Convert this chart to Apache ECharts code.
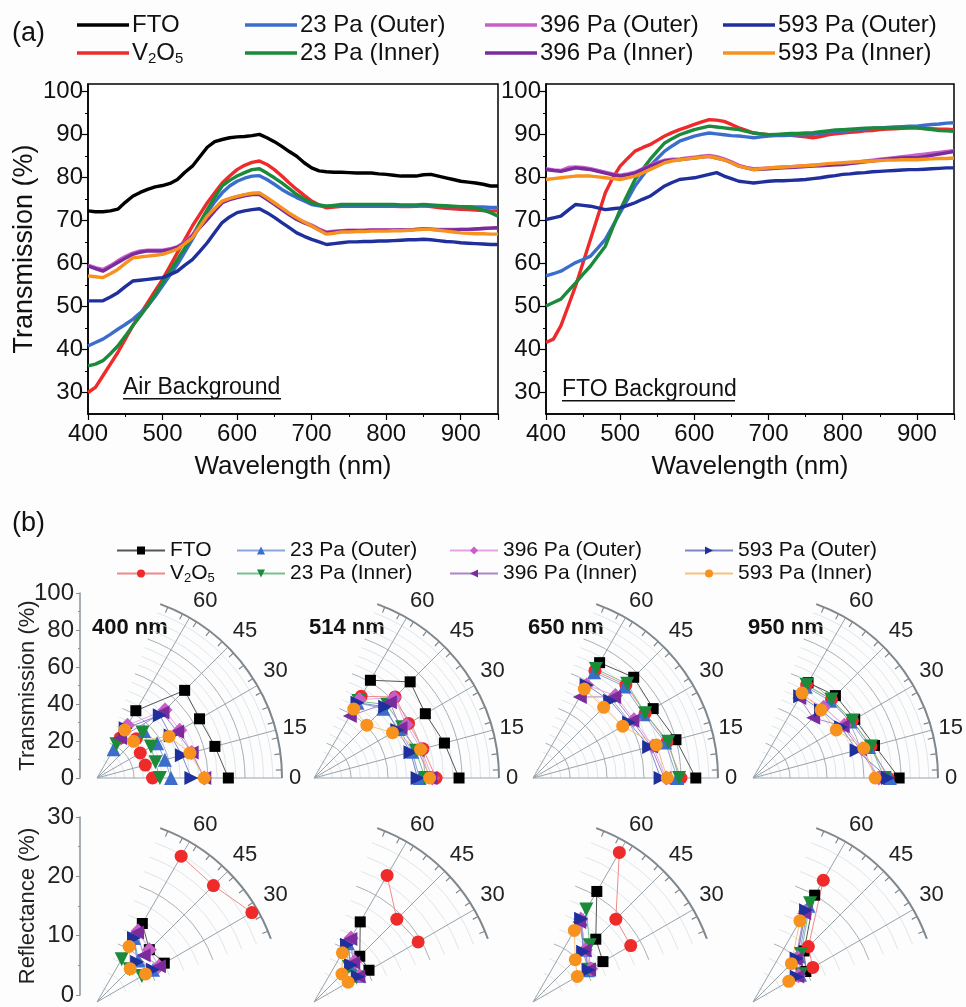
<!DOCTYPE html>
<html>
<head>
<meta charset="utf-8">
<script src="https://cdn.jsdelivr.net/npm/echarts@6/dist/echarts.min.js"></script>
<style>
html,body{margin:0;padding:0;background:#fdfdfe;}
#main{width:966px;height:1007px;}
</style>
</head>
<body>
<div id="main"></div>
<script>
// (a) spectra, 10 nm steps
var wavelength = [400,410,420,430,440,450,460,470,480,490,
  500,510,520,530,540,550,560,570,580,590,
  600,610,620,630,640,650,660,670,680,690,
  700,710,720,730,740,750,760,770,780,790,
  800,810,820,830,840,850,860,870,880,890,
  900,910,920,930,940,950];

// air background
var airFTO = [72.2,72.0,72.0,72.2,72.6,74.2,75.6,76.5,77.2,77.8,
  78.1,78.6,79.5,81.2,82.6,84.8,87.0,88.3,88.8,89.2,
  89.4,89.5,89.7,90.0,89.2,88.3,87.2,86.0,84.9,83.4,
  82.2,81.5,81.3,81.2,81.2,81.1,81.0,81.0,81.0,80.8,
  80.7,80.5,80.3,80.3,80.3,80.6,80.7,80.3,79.9,79.5,
  79.1,78.9,78.7,78.4,78.0,78.0];
var airV2O5 = [30.0,31.2,33.9,36.6,39.3,42.4,45.5,48.2,50.9,53.6,
  56.3,59.4,62.5,65.6,68.7,71.4,74.1,76.4,78.7,80.3,
  81.8,82.8,83.5,83.8,83.0,81.8,80.3,78.7,77.2,75.8,
  74.5,73.6,72.9,73.1,73.3,73.4,73.5,73.5,73.4,73.4,
  73.3,73.3,73.2,73.2,73.3,73.4,73.2,73.0,72.8,72.7,
  72.6,72.5,72.4,72.3,72.2,72.2];
var air23Out = [40.8,41.6,42.4,43.5,44.7,45.8,47.0,48.5,50.1,52.3,
  54.8,57.3,59.8,62.7,65.6,68.7,71.8,74.3,76.4,78.0,
  79.1,79.8,80.3,80.4,79.5,78.4,77.2,76.2,75.3,74.5,
  73.7,73.4,73.3,73.3,73.3,73.3,73.3,73.3,73.3,73.3,
  73.3,73.3,73.3,73.3,73.4,73.5,73.4,73.3,73.2,73.2,
  73.2,73.2,73.1,73.1,73.0,73.0];
var air23In = [36.2,36.6,37.4,39.0,40.8,43.1,45.5,47.8,50.1,52.8,
  55.5,58.2,60.9,63.6,66.4,69.5,72.5,75.4,78.0,79.3,
  80.3,81.1,81.8,82.0,81.0,79.9,78.7,77.4,76.0,75.0,
  74.1,73.6,73.3,73.5,73.7,73.7,73.7,73.7,73.7,73.7,
  73.7,73.7,73.6,73.6,73.6,73.7,73.6,73.5,73.4,73.3,
  73.2,73.1,72.9,72.4,71.8,71.0];
var air396Out = [59.6,59.0,58.6,59.5,60.6,61.6,62.4,62.9,63.1,63.1,
  63.1,63.4,63.9,65.0,66.6,68.5,70.4,72.4,74.3,75.0,
  75.5,75.9,76.2,76.3,75.2,74.0,72.7,71.5,70.4,69.6,
  68.9,68.0,67.3,67.5,67.6,67.7,67.7,67.7,67.8,67.8,
  67.8,67.8,67.8,67.8,67.9,68.0,68.0,67.9,67.9,67.9,
  67.9,67.9,68.0,68.1,68.2,68.3];
var air396In = [59.4,58.8,58.2,59.2,60.2,61.2,62.1,62.6,62.9,62.9,
  62.9,63.2,63.7,64.8,66.4,68.3,70.2,72.2,74.1,74.8,
  75.3,75.7,76.0,76.0,74.9,73.7,72.5,71.3,70.2,69.4,
  68.7,67.8,67.1,67.3,67.5,67.6,67.6,67.6,67.7,67.7,
  67.7,67.7,67.8,67.8,67.9,68.0,67.9,67.8,67.8,67.8,
  67.9,67.9,68.0,68.1,68.2,68.3];
var air593Out = [51.3,51.3,51.3,52.2,53.2,54.6,55.9,56.1,56.3,56.5,
  56.7,57.4,58.2,59.6,60.9,62.8,64.8,67.2,69.5,70.8,
  71.8,72.2,72.5,72.7,71.8,70.7,69.5,68.3,67.1,66.3,
  65.6,65.0,64.4,64.6,64.8,65.0,65.0,65.1,65.1,65.2,
  65.2,65.3,65.4,65.5,65.5,65.6,65.5,65.3,65.1,65.0,
  64.8,64.7,64.6,64.5,64.4,64.4];
var air593In = [57.1,56.9,56.7,57.6,58.6,60.0,61.3,61.5,61.7,61.9,
  62.1,62.7,63.3,64.6,66.0,68.5,71.0,72.8,74.5,75.1,
  75.6,76.0,76.3,76.4,75.3,74.1,72.9,71.7,70.6,69.6,
  68.7,67.7,66.8,67.0,67.3,67.3,67.4,67.4,67.5,67.5,
  67.5,67.6,67.6,67.7,67.8,67.9,67.9,67.7,67.5,67.3,
  67.1,67.0,66.9,66.9,66.8,66.8];

// FTO background
var ftoV2O5 = [41.6,42.4,45.5,50.1,54.8,60.2,65.6,71.0,76.4,79.9,
  82.6,84.4,86.1,86.9,87.6,88.6,89.6,90.4,91.1,91.7,
  92.3,92.9,93.4,93.3,93.0,92.3,91.5,90.9,90.3,90.1,
  89.9,89.9,89.9,89.8,89.6,89.4,89.2,89.5,89.9,90.1,
  90.3,90.5,90.6,90.8,90.9,91.1,91.2,91.3,91.4,91.5,
  91.5,91.4,91.3,91.2,91.2,91.1];
var fto23Out = [57.1,57.6,58.2,59.2,60.2,60.9,61.7,63.6,65.6,68.7,
  71.8,74.9,78.0,80.3,82.6,84.4,86.1,87.3,88.4,89.0,
  89.6,90.0,90.3,90.1,89.9,89.7,89.6,89.4,89.2,89.4,
  89.6,89.7,89.7,89.8,89.9,89.9,90.0,90.2,90.4,90.6,
  90.7,90.9,91.0,91.2,91.4,91.5,91.6,91.7,91.8,91.9,
  91.9,92.1,92.3,92.4,92.6,92.7];
var fto23In = [50.1,50.9,51.7,53.6,55.5,57.5,59.4,61.7,64.0,68.3,
  72.5,76.0,79.5,81.8,84.1,86.1,88.0,89.0,89.9,90.5,
  91.1,91.5,91.9,91.7,91.5,91.3,91.1,90.7,90.3,90.1,
  89.9,90.0,90.1,90.2,90.2,90.3,90.4,90.6,90.8,91.0,
  91.1,91.2,91.3,91.4,91.5,91.5,91.5,91.5,91.5,91.5,
  91.5,91.3,91.1,90.9,90.8,90.7];
var fto396Out = [82.0,81.7,81.6,82.3,82.4,82.3,82.0,81.6,81.2,80.8,
  80.5,80.8,81.2,82.0,82.8,83.5,84.0,84.2,84.3,84.5,
  84.7,84.9,85.1,84.8,84.3,83.6,82.8,82.3,82.0,82.1,
  82.2,82.3,82.4,82.5,82.6,82.7,82.8,82.9,83.0,83.1,
  83.2,83.4,83.6,83.8,84.0,84.2,84.4,84.6,84.8,85.0,
  85.2,85.4,85.6,85.8,86.0,86.2];
var fto396In = [81.8,81.6,81.4,81.8,82.2,82.0,81.8,81.4,81.0,80.6,
  80.3,80.6,81.0,81.8,82.6,83.2,83.8,84.0,84.1,84.3,
  84.5,84.7,84.9,84.5,84.1,83.4,82.6,82.2,81.8,81.9,
  82.0,82.1,82.2,82.3,82.4,82.5,82.6,82.7,82.8,82.9,
  83.0,83.2,83.4,83.6,83.8,84.0,84.2,84.4,84.5,84.6,
  84.5,84.8,85.1,85.4,85.7,86.0];
var fto593Out = [70.2,70.6,71.0,72.4,73.7,73.5,73.3,72.9,72.5,72.7,
  72.9,73.5,74.1,74.9,75.6,76.8,78.0,78.8,79.5,79.7,
  79.9,80.3,80.7,81.1,80.3,79.7,79.1,78.9,78.7,78.9,
  79.1,79.2,79.2,79.3,79.4,79.5,79.7,79.9,80.2,80.4,
  80.7,80.8,81.0,81.1,81.3,81.4,81.5,81.6,81.7,81.8,
  81.8,81.9,82.0,82.1,82.2,82.2];
var fto593In = [79.5,79.7,79.9,80.1,80.3,80.3,80.3,80.1,79.9,79.7,
  79.5,79.9,80.3,81.0,81.8,82.6,83.4,83.8,84.1,84.3,
  84.5,84.7,84.9,84.5,84.1,83.4,82.6,82.2,81.8,82.0,
  82.2,82.3,82.4,82.5,82.6,82.7,82.8,83.0,83.2,83.3,
  83.4,83.5,83.6,83.7,83.8,83.9,84.0,84.0,84.1,84.1,
  84.1,84.2,84.3,84.4,84.4,84.5];

var seriesNames = ['FTO','V2O5','23 Pa (Outer)','23 Pa (Inner)','396 Pa (Outer)','396 Pa (Inner)','593 Pa (Outer)','593 Pa (Inner)'];
var lineColors = ['#000000','#ee2a2a','#3b6dcc','#1b8a3a','#c85ec8','#7a2c9c','#1f2f9c','#f7921e'];
var thinColors = ['#555555','#f08a8a','#8aa6dc','#7cbf8c','#e3a6e3','#a987c6','#7d87c6','#f6c27e'];
var symbols = ['rect','circle','triangle','triangle','diamond','triangle','triangle','circle'];
var symbolRotates = [0,0,0,180,0,90,-90,0];
var symbolSizes = [11,13,14,14,15,14,14,13];

// (b) angle-resolved, T at 0/15/30/45/60 deg, R at 30/45/60 deg
var tAngles = [0,15,30,45,60];
var rAngles = [30,45,60];
var waveLabels = ['400 nm','514 nm','650 nm','950 nm'];

var trans400 = [[71,66,64,67,42],[30,27,27,30,25],[40,38,37.5,36,18],[34,32.7,33.7,34.8,21],
  [58,53,51.6,52,33],[58,53,50,50,25],[51,47.5,46,48,31],[58,52,45,28,30]];
var trans514 = [[78.4,73,69.5,73.5,61],[66,61,59,62,51],[57,55,53,53,47],[60,57,55,56,48],
  [64,60,57.6,61.4,49],[63,58,54,58,38.7],[56,54,52,54.4,47],[62.5,59.6,49,40.4,43]];
var trans650 = [[88,80,75,77,72],[80,75,70,71,67],[78,74,69,70,66],[79,75.7,70,72,68],
  [72,67,63,63,58],[71,66,62,62,50.6],[69,65,60,59,58],[72.6,69,56,54,55.5]];
var trans950 = [[79,68,63.5,63,59.5],[73,66,62,60,58],[74,65,61,59,57],[71,66,62,60,58],
  [68,61,57,54,52],[67.6,60,56,46,50],[73,58,55,52,51],[66,62,52,52,53]];

var refl400 = [[12.6,12,14.7],[29,26.7,27.3],[10.5,9.5,12],[8.4,7.5,8],
  [11.6,12,13.3],[11.6,10.7,13],[10.5,9.2,12],[9.1,7.6,10.4]];
var refl514 = [[10.3,10.5,15],[19.5,19,23.7],[8.5,8.5,11],[8,8,10.5],
  [8.5,9.3,12],[8.3,9,11.8],[8.2,8.5,10.7],[6.4,6.4,9.2]];
var refl650 = [[13.1,14.4,20.7],[18.3,19,28],[10.3,12,15.5],[10.5,13,17.3],
  [10.8,12,15.5],[10.5,11.8,15],[10.4,11.5,15.6],[8.3,9.7,13.4]];
var refl950 = [[9.9,11.7,20],[11.2,12.7,22.8],[8.8,10.5,18],[9,11,18.5],
  [8.5,10.2,17],[8.3,9.8,16.6],[8.2,10,17.2],[6.7,8.8,15.2]];

var tTicks = [30,40,50,60,70,80,90,100];
var tMinor = [35,45,55,65,75,85,95];

var airSets = [airFTO, airV2O5, air23Out, air23In, air396Out, air396In, air593Out, air593In];
var ftoSets = [null, ftoV2O5, fto23Out, fto23In, fto396Out, fto396In, fto593Out, fto593In];
var transSets = [trans400, trans514, trans650, trans950];
var reflSets = [refl400, refl514, refl650, refl950];

var polarCx = [97, 314, 533, 753];
var rowCy = [778, 1002];
var FONT = 'Liberation Sans, Arial, sans-serif';
var arcMajor = '#a7b0b6', arcMinor = '#dfe6ea';

var myChart = echarts.init(document.getElementById('main'));

function pairs(ys) {
  return wavelength.map(function (x, i) { return [x, ys[i]]; });
}
function nameFmt(name) {
  var n = name.replace('b:', '');
  if (n === 'V2O5') return '{n|V}{s|2}{n|O}{s|5}';
  return '{n|' + n + '}';
}

var grids = [
  {left: 88, top: 84, width: 410, height: 330, show: true, borderColor: '#000', borderWidth: 1.5, backgroundColor: '#fff'},
  {left: 546, top: 84, width: 408, height: 330, show: true, borderColor: '#000', borderWidth: 1.5, backgroundColor: '#fff'},
  {left: 80, top: 593, width: 1, height: 185},
  {left: 80, top: 817, width: 1, height: 185}
];

function specX(gi) {
  return {
    gridIndex: gi, type: 'value', min: 400, max: 950, interval: 100,
    name: 'Wavelength (nm)', nameLocation: 'middle', nameGap: 40,
    nameTextStyle: {fontSize: 26, color: '#111', fontFamily: FONT},
    axisLine: {lineStyle: {color: '#000', width: 1.5}},
    axisTick: {length: 6, lineStyle: {color: '#000', width: 1.2}},
    minorTick: {show: true, splitNumber: 2, length: 3, lineStyle: {color: '#000'}},
    axisLabel: {fontSize: 24, color: '#111', margin: 8, fontFamily: FONT, showMaxLabel: false},
    splitLine: {show: false}
  };
}
function specY(gi, withName) {
  return {
    gridIndex: gi, type: 'value', min: 25, max: 101.7,
    name: withName ? 'Transmission (%)' : '', nameLocation: 'middle', nameGap: 50,
    nameTextStyle: {fontSize: 27, color: '#111', fontFamily: FONT},
    axisLine: {lineStyle: {color: '#000', width: 1.5}},
    axisTick: {length: 6, customValues: tTicks, lineStyle: {color: '#000', width: 1.2}},
    axisLabel: {fontSize: 24, color: '#111', margin: 5, fontFamily: FONT, customValues: tTicks},
    splitLine: {show: false}
  };
}
function specYMinor(gi) {
  return {
    gridIndex: gi, type: 'value', min: 25, max: 101.7, position: 'left',
    axisLine: {show: false},
    axisTick: {length: 3, customValues: tMinor, lineStyle: {color: '#000'}},
    axisLabel: {show: false},
    splitLine: {show: false}
  };
}
function polarY(gi, maxV, step, title) {
  return {
    gridIndex: gi, type: 'value', min: 0, max: maxV, interval: step,
    name: title, nameLocation: 'middle', nameGap: 41, nameMoveOverlap: false,
    nameTextStyle: {fontSize: 22, color: '#222', fontFamily: FONT},
    axisLine: {lineStyle: {color: '#8b949a', width: 1.5}},
    axisTick: {length: 4, lineStyle: {color: '#8b949a'}},
    minorTick: {show: true, splitNumber: 2, length: 2, lineStyle: {color: '#8b949a'}},
    axisLabel: {fontSize: 24, color: '#222', margin: 6, fontFamily: FONT},
    splitLine: {show: false}
  };
}

var xAxes = [specX(0), specX(1),
  {gridIndex: 2, type: 'value', show: false}, {gridIndex: 3, type: 'value', show: false}];
var yAxes = [specY(0, true), specY(1, false), specYMinor(0), specYMinor(1),
  polarY(2, 100, 20, 'Transmission (%)'), polarY(3, 30, 10, 'Reflectance (%)')];

var polars = [], angleAxes = [], radiusAxes = [], series = [];

// spectra series
for (var k = 0; k < 8; k++) {
  series.push({
    name: seriesNames[k], type: 'line', xAxisIndex: 0, yAxisIndex: 0,
    data: pairs(airSets[k]), showSymbol: false, symbol: 'none',
    lineStyle: {width: 3.4, color: lineColors[k]}, itemStyle: {color: lineColors[k]}
  });
  if (ftoSets[k]) {
    series.push({
      name: seriesNames[k], type: 'line', xAxisIndex: 1, yAxisIndex: 1,
      data: pairs(ftoSets[k]), showSymbol: false, symbol: 'none',
      lineStyle: {width: 3.4, color: lineColors[k]}, itemStyle: {color: lineColors[k]}
    });
  }
}

// polar panels
for (var row = 0; row < 2; row++) {
  for (var p = 0; p < 4; p++) {
    var pi = polars.length;
    polars.push({center: [polarCx[p], rowCy[row]], radius: 185});
    var isT = row === 0;
    angleAxes.push({
      polarIndex: pi, type: 'value',
      min: isT ? 0 : 20, max: 70, startAngle: isT ? 0 : 20, endAngle: 70, clockwise: false,
      axisLine: {lineStyle: {color: '#7f888e', width: 2}},
      axisTick: {show: false, inside: true, customValues: isT ? tAngles : rAngles},
      minorTick: {show: true, splitNumber: 2, length: 6, lineStyle: {color: '#7f888e', width: 1.2}},
      axisLabel: {fontSize: 22, color: '#222', margin: 7, fontFamily: FONT, customValues: isT ? tAngles : rAngles},
      splitLine: {show: true, lineStyle: {color: '#9aa3a9', width: 1}}
    });
    // every 4th ring is a darker one
    radiusAxes.push({
      polarIndex: pi, type: 'value', min: 0, max: isT ? 100 : 30, interval: isT ? 5 : 2.5,
      axisLine: {show: false}, axisTick: {show: false}, axisLabel: {show: false},
      splitLine: {show: true, lineStyle: {color: [arcMajor, arcMinor, arcMinor, arcMinor], width: 1}}
    });
    var sets = isT ? transSets[p] : reflSets[p];
    var angs = isT ? tAngles : rAngles;
    for (var s = 0; s < 8; s++) {
      series.push({
        name: 'b:' + seriesNames[s], type: 'line', coordinateSystem: 'polar', polarIndex: pi,
        data: sets[s].map(function (v, j) { return [v, angs[j]]; }),
        symbol: symbols[s], symbolSize: symbolSizes[s], symbolRotate: symbolRotates[s],
        lineStyle: {width: 1, color: thinColors[s]},
        itemStyle: {color: lineColors[s]}
      });
    }
  }
}

var legends = [];
var aCols = [72, 240, 480, 718];
var bCols = [111, 231, 444, 679];
for (var c = 0; c < 4; c++) {
  legends.push({
    orient: 'vertical', left: aCols[c], top: 8, itemGap: 4, itemWidth: 52, itemHeight: 3.5,
    icon: 'rect', selectedMode: false, data: [seriesNames[2 * c], seriesNames[2 * c + 1]],
    formatter: nameFmt,
    textStyle: {color: '#111', fontFamily: FONT, padding: [0, 0, 0, -2],
      rich: {n: {fontSize: 24, lineHeight: 24, fontFamily: FONT, color: '#111'},
        s: {fontSize: 15, padding: [11, 0, 0, 0], fontFamily: FONT, color: '#111'}}}
  });
  legends.push({
    orient: 'vertical', left: bCols[c], top: 535, itemGap: 2, itemWidth: 48, itemHeight: 10,
    selectedMode: false, data: ['b:' + seriesNames[2 * c], 'b:' + seriesNames[2 * c + 1]],
    formatter: nameFmt,
    textStyle: {color: '#111', fontFamily: FONT,
      rich: {n: {fontSize: 21, lineHeight: 21, fontFamily: FONT, color: '#111'},
        s: {fontSize: 13, padding: [10, 0, 0, 0], fontFamily: FONT, color: '#111'}}}
  });
}

var graphics = [
  {type: 'text', left: 12, top: 20, style: {text: '(a)', fontSize: 27, fill: '#111', fontFamily: FONT}},
  {type: 'text', left: 12, top: 510, style: {text: '(b)', fontSize: 27, fill: '#111', fontFamily: FONT}},
  {type: 'text', left: 123, top: 376, style: {text: 'Air Background', fontSize: 23, fill: '#111', fontFamily: FONT}},
  {type: 'rect', left: 123, top: 398, shape: {width: 158, height: 1.5}, style: {fill: '#111'}},
  {type: 'text', left: 562, top: 378, style: {text: 'FTO Background', fontSize: 23, fill: '#111', fontFamily: FONT}},
  {type: 'rect', left: 562, top: 400, shape: {width: 173, height: 1.5}, style: {fill: '#111'}}
];
for (var w = 0; w < 4; w++) {
  graphics.push({type: 'text', left: polarCx[w] - 5, top: 617,
    style: {text: waveLabels[w], fontSize: 22, fontWeight: 'bold', fill: '#111', fontFamily: FONT}});
}

var option = {
  animation: false,
  backgroundColor: '#fdfdfe',
  grid: grids,
  xAxis: xAxes,
  yAxis: yAxes,
  polar: polars,
  angleAxis: angleAxes,
  radiusAxis: radiusAxes,
  legend: legends,
  graphic: graphics,
  series: series
};
myChart.setOption(option);

window.addEventListener('resize', function () {
  myChart.resize();
});
</script>
</body>
</html>
